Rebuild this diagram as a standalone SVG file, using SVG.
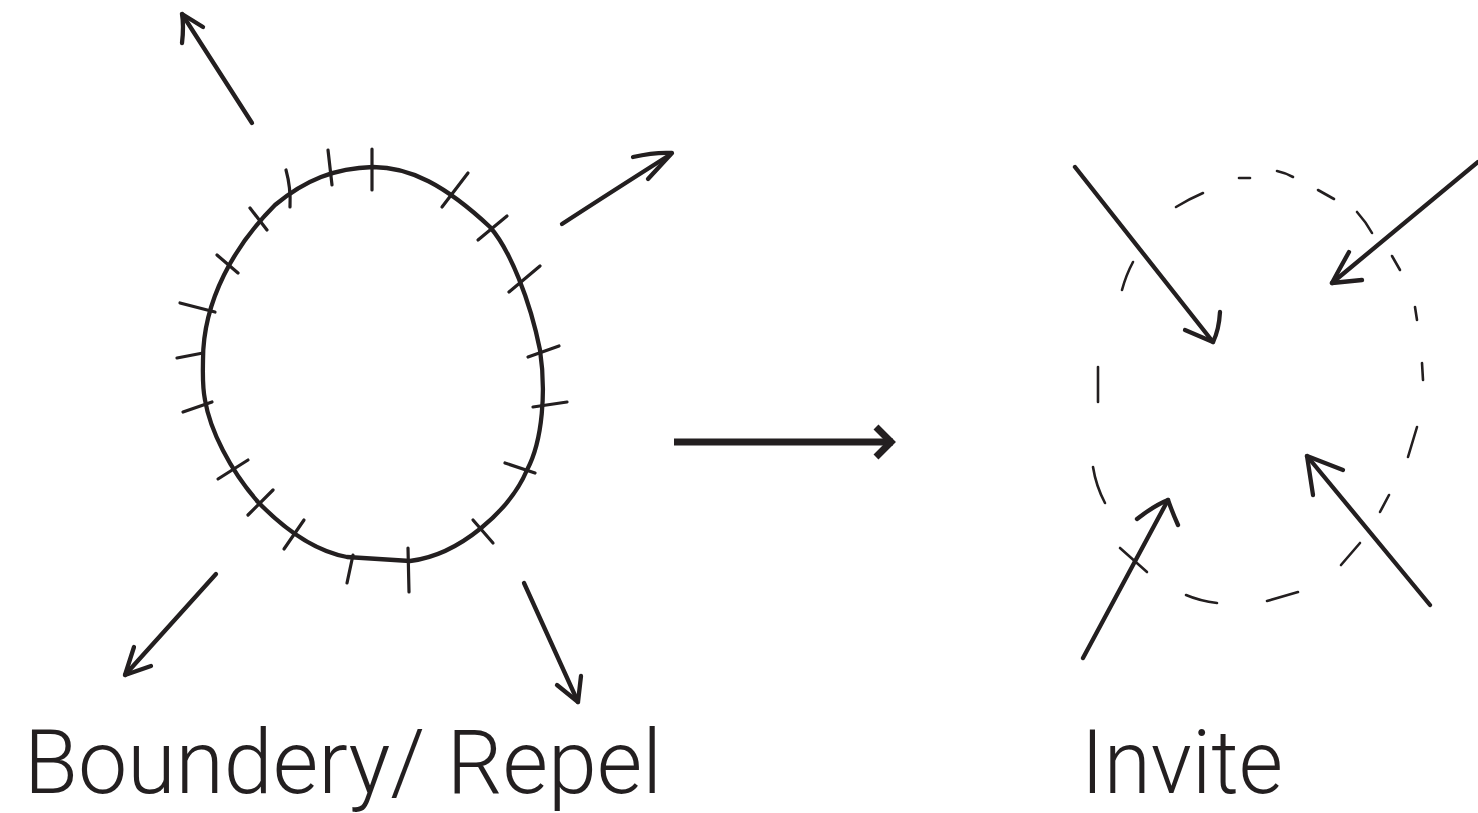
<svg xmlns="http://www.w3.org/2000/svg" width="1478" height="813" viewBox="0 0 1478 813">
<style>
.ink{fill:none;stroke:#231f20;stroke-linecap:round;stroke-linejoin:round}
.outline{stroke-width:4.3}
.tick{stroke-width:3.2}
.arrow{stroke-width:4.3}
.dash{stroke-width:2.6}
.main{stroke-width:7;stroke-linecap:butt;stroke-linejoin:miter}
.label{font-family:Roboto,"Liberation Sans",sans-serif;font-weight:300;font-size:89px;fill:#231f20}
</style>
<rect width="1478" height="813" fill="#ffffff"/>
<g id="boundary-repel">
  <path class="ink outline" d="M203,360 C203,300 235,245 275,205 C305,180 335,168 373,167 C410,167 445,185 490,227 C510,250 530,300 540,350 C546,390 543,440 527,470 C510,510 460,555 410,561 L347,557 C320,552 290,535 258,502 C230,470 210,430 205,400 C202,385 203,370 203,360 Z"/>
  <g class="ink tick">
    <path d="M328,150 L332,185"/>
    <path d="M372,149 L372,190"/>
    <path d="M286,170 Q291,188 290,207"/>
    <path d="M250,208 L267,230"/>
    <path d="M217,255 L238,273"/>
    <path d="M180,303 L215,312"/>
    <path d="M177,358 L203,353"/>
    <path d="M183,412 L212,402"/>
    <path d="M218,479 L248,460"/>
    <path d="M248,515 L273,490"/>
    <path d="M284,549 L304,520"/>
    <path d="M347,583 L353,555"/>
    <path d="M408,548 L409,592"/>
    <path d="M473,520 L493,543"/>
    <path d="M505,463 L535,473"/>
    <path d="M533,407 L567,402"/>
    <path d="M528,357 L559,346"/>
    <path d="M509,292 L540,266"/>
    <path d="M478,240 L507,216"/>
    <path d="M442,207 L468,173"/>
  </g>
  <g id="repel-arrows" class="ink arrow">
    <path d="M252,123 L182,14"/>
    <path d="M182,43 Q184,26 182,14 L203,27"/>
    <path d="M562,224 Q605,196 668,156"/>
    <path d="M633,157 Q655,152 672,153 L648,179"/>
    <path d="M216,574 L125,675"/>
    <path d="M134,647 L125,675 L151,666"/>
    <path d="M524,583 L578,702"/>
    <path d="M581,676 L578,702 L557,685"/>
  </g>
</g>
<g id="connectors">
  <path class="ink main" d="M674,442 L893,442"/>
  <path class="ink main" d="M876,427 L891,442 L876,457"/>
</g>
<g id="invite">
  <g class="ink dash">
    <path d="M1176,207 Q1189,199 1203,193"/>
    <path d="M1239,178 L1250,178"/>
    <path d="M1277,171 Q1286,173 1293,177"/>
    <path d="M1318,190 L1334,199"/>
    <path d="M1357,212 Q1366,222 1372,233"/>
    <path d="M1392,256 L1400,270"/>
    <path d="M1415,307 L1417,320"/>
    <path d="M1422,363 L1423,380"/>
    <path d="M1417,427 L1408,457"/>
    <path d="M1389,495 L1380,512"/>
    <path d="M1360,543 L1341,565"/>
    <path d="M1298,592 L1267,601"/>
    <path d="M1217,603 Q1200,601 1186,595"/>
    <path d="M1105,503 Q1096,486 1093,467"/>
    <path d="M1098,367 L1098,402"/>
    <path d="M1122,290 Q1126,275 1133,262"/>
    <path d="M1120,548 L1147,572"/>
  </g>
  <g id="invite-arrows" class="ink arrow">
    <path d="M1075,167 L1213,342"/>
    <path d="M1220,312 Q1219,330 1213,342 L1185,330"/>
    <path d="M1478,162 L1332,283"/>
    <path d="M1349,252 Q1340,268 1332,283 L1362,280"/>
    <path d="M1083,658 L1168,500"/>
    <path d="M1137,519 Q1155,505 1168,500 Q1173,514 1178,525"/>
    <path d="M1430,605 L1307,456"/>
    <path d="M1313,495 Q1310,475 1307,456 L1343,470"/>
  </g>
</g>
<g id="labels">
  <text class="label" x="24" y="793" textLength="638" lengthAdjust="spacingAndGlyphs">Boundery/ Repel</text>
  <text class="label" x="1081" y="793" textLength="202" lengthAdjust="spacingAndGlyphs">Invite</text>
</g>
</svg>
